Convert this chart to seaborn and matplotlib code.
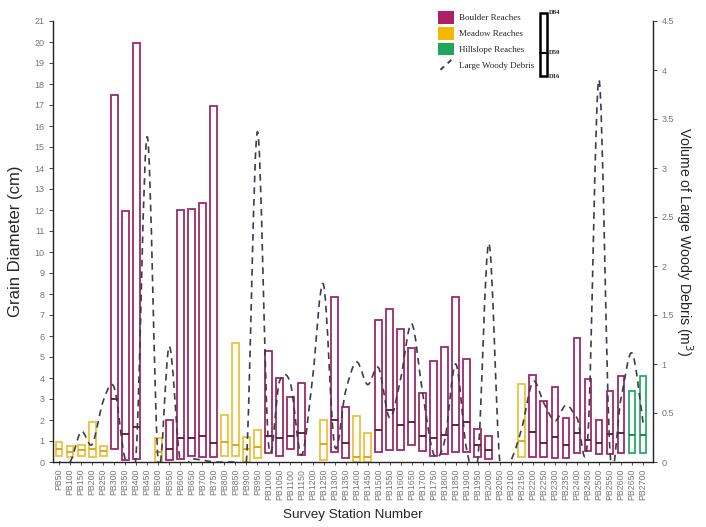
import matplotlib
matplotlib.use("Agg")
import matplotlib.pyplot as plt
import numpy as np
import pandas as pd
import seaborn as sns
from matplotlib.path import Path
from matplotlib.patches import PathPatch, Patch, Rectangle
from matplotlib.lines import Line2D
from matplotlib.legend_handler import HandlerBase
from matplotlib.ticker import FormatStrFormatter, MultipleLocator

# Survey stations (one box per station)
stations = ["PB50", "PB100", "PB150", "PB200", "PB250", "PB300", "PB350", "PB400", "PB450",
            "PB500", "PB550", "PB600", "PB650", "PB700", "PB750", "PB800", "PB850", "PB900",
            "PB950", "PB1000", "PB1050", "PB1100", "PB1150", "PB1200", "PB1250", "PB1300",
            "PB1350", "PB1400", "PB1450", "PB1500", "PB1550", "PB1600", "PB1650", "PB1700",
            "PB1750", "PB1800", "PB1850", "PB1900", "PB1950", "PB2000", "PB2050", "PB2100",
            "PB2150", "PB2200", "PB2250", "PB2300", "PB2350", "PB2400", "PB2450", "PB2500",
            "PB2550", "PB2600", "PB2650", "PB2700"]

# B = boulder, M = meadow, H = hillslope, "" = no sample
reach = ["M", "M", "M", "M", "M", "B", "B", "B", "",
         "M", "B", "B", "B", "B", "B", "M", "M", "M",
         "M", "B", "B", "B", "B", "", "M", "B",
         "B", "M", "M", "B", "B", "B", "B", "B",
         "B", "B", "B", "B", "B", "B", "", "",
         "M", "B", "B", "B", "B", "B", "B", "B",
         "B", "B", "H", "H"]

nan = np.nan
# grain size percentiles (cm)
d16 = [0.27, 0.24, 0.27, 0.24, 0.27, 0.60, 0.08, 0.16, nan,
       0.02, 0.08, 0.13, 0.29, 0.22, 0.22, 0.29, 0.29, 0.02,
       0.17, 0.44, 0.29, 0.60, 0.33, nan, 0.10, 0.49,
       0.19, 0.02, 0.02, 0.49, 0.57, 0.57, 0.81, 0.52,
       0.29, 0.38, 0.49, 0.49, 0.25, 0.13, nan, nan,
       0.25, 0.25, 0.25, 0.17, 0.17, 0.41, 0.54, 0.38,
       0.38, 0.41, 0.41, 0.41]
d50 = [0.60, 0.50, 0.56, 0.60, 0.54, 2.98, 1.32, 1.68, nan,
       0.50, 0.62, 1.13, 1.13, 1.24, 0.92, 0.97, 0.81, 0.60,
       0.70, 1.25, 1.13, 1.24, 1.40, nan, 0.86, 2.00,
       0.90, 0.25, 0.24, 1.52, 2.48, 1.76, 1.92, 1.24,
       1.14, 1.28, 1.76, 1.92, 0.80, 0.57, nan, nan,
       1.00, 1.44, 0.89, 1.17, 0.80, 1.40, 1.05, 0.92,
       1.32, 1.40, 1.29, 1.29]
d84 = [0.97, 0.75, 0.80, 1.92, 0.75, 17.50, 11.95, 19.95, nan,
       1.13, 2.00, 12.00, 12.05, 12.35, 16.95, 2.24, 5.65, 1.20,
       1.52, 5.30, 3.98, 3.11, 3.78, nan, 2.00, 7.87,
       2.62, 2.20, 1.40, 6.76, 7.29, 6.33, 5.43, 3.30,
       4.82, 5.48, 7.87, 4.90, 1.56, 1.24, nan, nan,
       3.71, 4.14, 2.92, 3.56, 2.11, 5.89, 3.94, 2.00,
       3.40, 4.11, 3.40, 4.10]

# large woody debris volume (m3)
lwd = [0.00, 0.00, 0.31, 0.18, 0.62, 0.76, 0.03, 0.10, 3.32,
       0.00, 1.18, 0.00, 0.03, 0.02, 0.00, 0.00, 0.00, 0.00,
       3.37, 0.20, 0.82, 0.80, 0.07, 0.85, 1.81, 0.17,
       0.72, 1.02, 0.79, 0.96, 0.45, 0.85, 1.41, 0.70,
       0.08, 0.22, 1.00, 0.12, 0.03, 2.23, 0.00, 0.02,
       0.35, 0.82, 0.60, 0.42, 0.58, 0.45, 0.28, 3.90,
       0.10, 0.65, 1.11, 0.40]

edge_col = {"B": "#9e2a68", "M": "#eec13a", "H": "#2aaa66", "": "none"}
med_col = {"B": "#4e1838", "M": "#d4a21a", "H": "#1a7a48", "": "none"}
legend_col = {"B": "#ad1f66", "M": "#f5b700", "H": "#1fa65a"}
dash_col = "#3a3d4a"

df = pd.DataFrame({"station": stations, "reach": reach, "d16": d16, "d50": d50, "d84": d84})
df["height"] = (df["d84"] - df["d16"]).fillna(0)
df["bottom"] = df["d16"].fillna(0)

sns.set_style("ticks")
plt.rcParams["font.family"] = ["Liberation Sans", "DejaVu Sans"]

fig = plt.figure(figsize=(7.06, 5.27), dpi=100)
ax = fig.add_axes([53 / 706, 1 - 462 / 527, 600 / 706, 441 / 527])

box_w = 0.62
sns.barplot(data=df, x="station", y="height", order=stations, bottom=df["bottom"].values,
            fill=False, width=box_w, errorbar=None, linewidth=1.3, color=edge_col["B"],
            edgecolor=[edge_col[r] for r in reach], ax=ax)

pos = np.arange(len(stations))
ax.hlines(df["d50"], pos - box_w / 2, pos + box_w / 2,
          colors=[med_col[r] for r in reach], lw=1.3)

ax.set_xlim(-0.55, 53.9)
ax.set_ylim(0, 21)
ax.yaxis.set_major_locator(MultipleLocator(1))
ax.set_xlabel("Survey Station Number", fontsize=9.7, labelpad=6)
ax.set_ylabel("Grain Diameter (cm)", fontsize=12, labelpad=8)
ax.tick_params(axis="x", labelrotation=90, labelsize=6.3, colors="#333333",
               labelcolor="#777777", length=2, width=0.6, pad=3)
ax.tick_params(axis="y", labelsize=6.5, labelcolor="#777777", length=3, width=0.6, pad=3)
for s in ["top", "right"]:
    ax.spines[s].set_visible(False)
for s in ["left", "bottom"]:
    ax.spines[s].set_color("#222222")
    ax.spines[s].set_linewidth(1.0)

# woody debris on the secondary axis, drawn as a smoothed dashed line
ax2 = ax.twinx()
ax2.set_ylim(0, 4.5)
ax2.yaxis.set_major_locator(MultipleLocator(0.5))
ax2.yaxis.set_major_formatter(FormatStrFormatter("%g"))
ax2.tick_params(axis="y", labelsize=6.5, labelcolor="#777777", length=3, width=0.6, pad=3)
ax2.set_ylabel("Volume of Large Woody Debris (m$^3$)", fontsize=10.2, rotation=270, labelpad=15)
for s in ["top", "left", "bottom"]:
    ax2.spines[s].set_visible(False)
ax2.spines["right"].set_color("#222222")
ax2.spines["right"].set_linewidth(1.0)

pts = np.column_stack([pos, lwd])
ext = np.vstack([pts[0], pts, pts[-1]])
verts = [pts[0]]
codes = [Path.MOVETO]
for i in range(len(pts) - 1):
    p0, p1, p2, p3 = ext[i], ext[i + 1], ext[i + 2], ext[i + 3]
    verts += [p1 + (p2 - p0) / 6, p2 - (p3 - p1) / 6, p2]
    codes += [Path.CURVE4] * 3
ax2.add_patch(PathPatch(Path(verts, codes), fill=False, edgecolor=dash_col,
                        lw=1.2, linestyle=(0, (4, 3)), clip_on=True))


class SlantHandler(HandlerBase):
    def create_artists(self, legend, orig_handle, xdescent, ydescent, width, height, fontsize, trans):
        ln = Line2D([0.15 * width - xdescent, 0.85 * width - xdescent],
                    [0.1 * height - ydescent, 0.9 * height - ydescent],
                    color=dash_col, lw=1.4, linestyle=(0, (2.5, 2.5)), transform=trans)
        return [ln]


handles = [Patch(facecolor=legend_col["B"], edgecolor="none", label="Boulder Reaches"),
           Patch(facecolor=legend_col["M"], edgecolor="none", label="Meadow Reaches"),
           Patch(facecolor=legend_col["H"], edgecolor="none", label="Hillslope Reaches"),
           Line2D([], [], color=dash_col, label="Large Woody Debris")]
fig.legend(handles=handles, loc="upper left", bbox_to_anchor=(438 / 706, 1 - 11 / 527),
           frameon=False, prop={"family": "Liberation Serif", "size": 6.5},
           handlelength=1.8, handleheight=1.8, labelspacing=0.33, handletextpad=0.55,
           borderpad=0, borderaxespad=0, handler_map={Line2D: SlantHandler()})

# percentile key
kax = fig.add_axes([540 / 706, 1 - 76 / 527, 7 / 706, 63 / 527])
kax.axis("off")
kax.add_patch(Rectangle((0, 0), 1, 1, fill=False, lw=1.8, ec="black",
                        transform=kax.transAxes, clip_on=False))
kax.plot([0, 1], [0.37, 0.37], color="black", lw=1.5, transform=kax.transAxes, clip_on=False)
for lab, yy in [("D84", 1.0), ("D50", 0.37), ("D16", 0.0)]:
    kax.text(1.25, yy, lab, transform=kax.transAxes, fontsize=4.8, fontweight="bold",
             family="Liberation Serif", va="center", ha="left")

fig.savefig("out.png", dpi=100)
